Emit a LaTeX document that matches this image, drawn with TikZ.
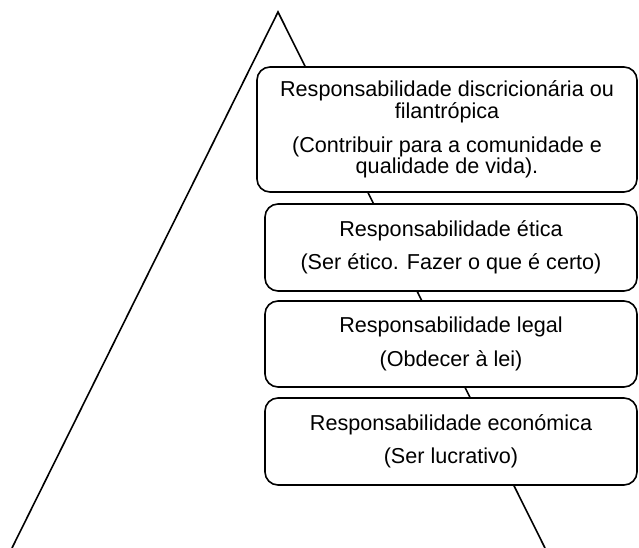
\documentclass[tikz,border=0pt]{standalone}
\usepackage{fontspec}
\setmainfont{Liberation Sans}
\begin{document}
\begin{tikzpicture}[x=1pt,y=-1pt,
  layerbox/.style={draw=black, line width=1.6pt, fill=white, rounded corners=13pt,
    align=center, font=\fontsize{21.6}{20}\selectfont, inner sep=0pt},
  edge/.style={draw=black, line width=1.6pt}]
\useasboundingbox (0,0) rectangle (639,548);
\begin{scope}
\clip (0,0) rectangle (639,548);
\coordinate (apex) at (278,12);
\coordinate (bl) at (12,548);
\coordinate (br) at (545,548);
\draw[edge, line join=miter] (bl) -- (apex) -- (br);
\end{scope}
\node[layerbox, minimum width=380pt, minimum height=125pt] (b1) at (447,129.5)
  {Responsabilidade discricionária ou\\filantrópica\\[13pt](Contribuir para a comunidade e\\qualidade de vida).};
\node[layerbox, minimum width=372pt, minimum height=87pt] (b2) at (451,247.5)
  {Responsabilidade ética\\[12pt](Ser ético. Fazer o que é certo)};
\node[layerbox, minimum width=372pt, minimum height=86pt] (b3) at (451,344)
  {Responsabilidade legal\\[12pt](Obdecer à lei)};
\node[layerbox, minimum width=372pt, minimum height=87pt] (b4) at (451,441.5)
  {Responsabilidade económica\\[12pt](Ser lucrativo)};
\end{tikzpicture}
\end{document}
